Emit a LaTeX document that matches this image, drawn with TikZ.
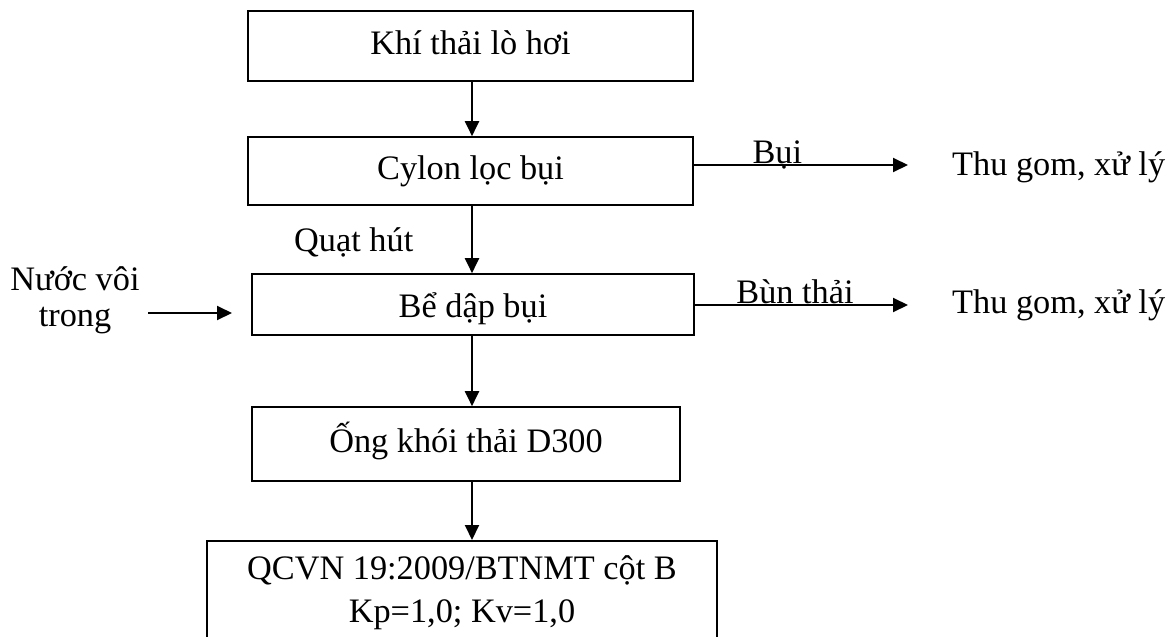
\documentclass[tikz,border=0pt]{standalone}
\usepackage{fontspec}
\setmainfont{Liberation Serif}
\usetikzlibrary{arrows.meta}
\begin{document}
\begin{tikzpicture}[x=1pt,y=-1pt,
	every node/.style={font=\fontsize{34.3}{40}\selectfont},
	box/.style={draw, line width=1.6pt, inner sep=0pt},
	oneline/.style={text height=24pt, text depth=7pt},
	arr/.style={line width=2pt, -{Triangle[length=15pt,width=14pt]}},
	lbl/.style={inner sep=0pt, anchor=base, yshift=2pt}]
	\clip (0,0) rectangle (1173,637);
	% boxes of the line
	\node[box, oneline, minimum width=445pt, minimum height=70pt] (khithai) at (470.5,46) {Khí thải lò hơi};
	\node[box, oneline, minimum width=445pt, minimum height=68pt] (cylon) at (470.5,171) {Cylon lọc bụi};
	\node[box, oneline, text height=32pt, minimum width=442pt, minimum height=61pt] (bedap) at (473,304.5) {Bể dập bụi};
	\node[box, oneline, minimum width=428pt, minimum height=74pt] (ongkhoi) at (466,444) {Ống khói thải D300};
	\node[box, anchor=north, align=center, minimum width=510pt, minimum height=104pt,
		font=\fontsize{34.3}{43}\selectfont] (qcvn) at (462,540) {QCVN 19:2009/BTNMT cột B\\Kp=1,0; Kv=1,0};
	% side texts
	\node[align=center, inner sep=0pt, font=\fontsize{34.3}{36}\selectfont] (nuoc) at (75,300) {Nước vôi\\trong};
	\node[anchor=base west, inner sep=0pt] (quat) at (294,251) {Quạt hút};
	\node[anchor=base west, inner sep=0pt] (thugom1) at (952,175) {Thu gom, xử lý};
	\node[anchor=base west, inner sep=0pt] (thugom2) at (952,313) {Thu gom, xử lý};
	\coordinate (spine) at (472,0);
	\coordinate (buiend) at (908,165);
	\coordinate (bunend) at (908,305);
	\coordinate (voiA) at (148,313);
	\coordinate (voiB) at (232,313);
	% arrows
	\draw[arr] (khithai.south -| spine) -- (cylon.north -| spine);
	\draw[arr] (cylon.south -| spine) -- (bedap.north -| spine);
	\draw[arr] (bedap.south -| spine) -- (ongkhoi.north -| spine);
	\draw[arr] (ongkhoi.south -| spine) -- (qcvn.north -| spine);
	\draw[arr] (cylon.east |- buiend) -- (buiend) node[lbl, pos=0.39] {Bụi};
	\draw[arr] (bedap.east |- bunend) -- (bunend) node[lbl, pos=0.47] {Bùn thải};
	\draw[arr] (voiA) -- (voiB);
\end{tikzpicture}
\end{document}
